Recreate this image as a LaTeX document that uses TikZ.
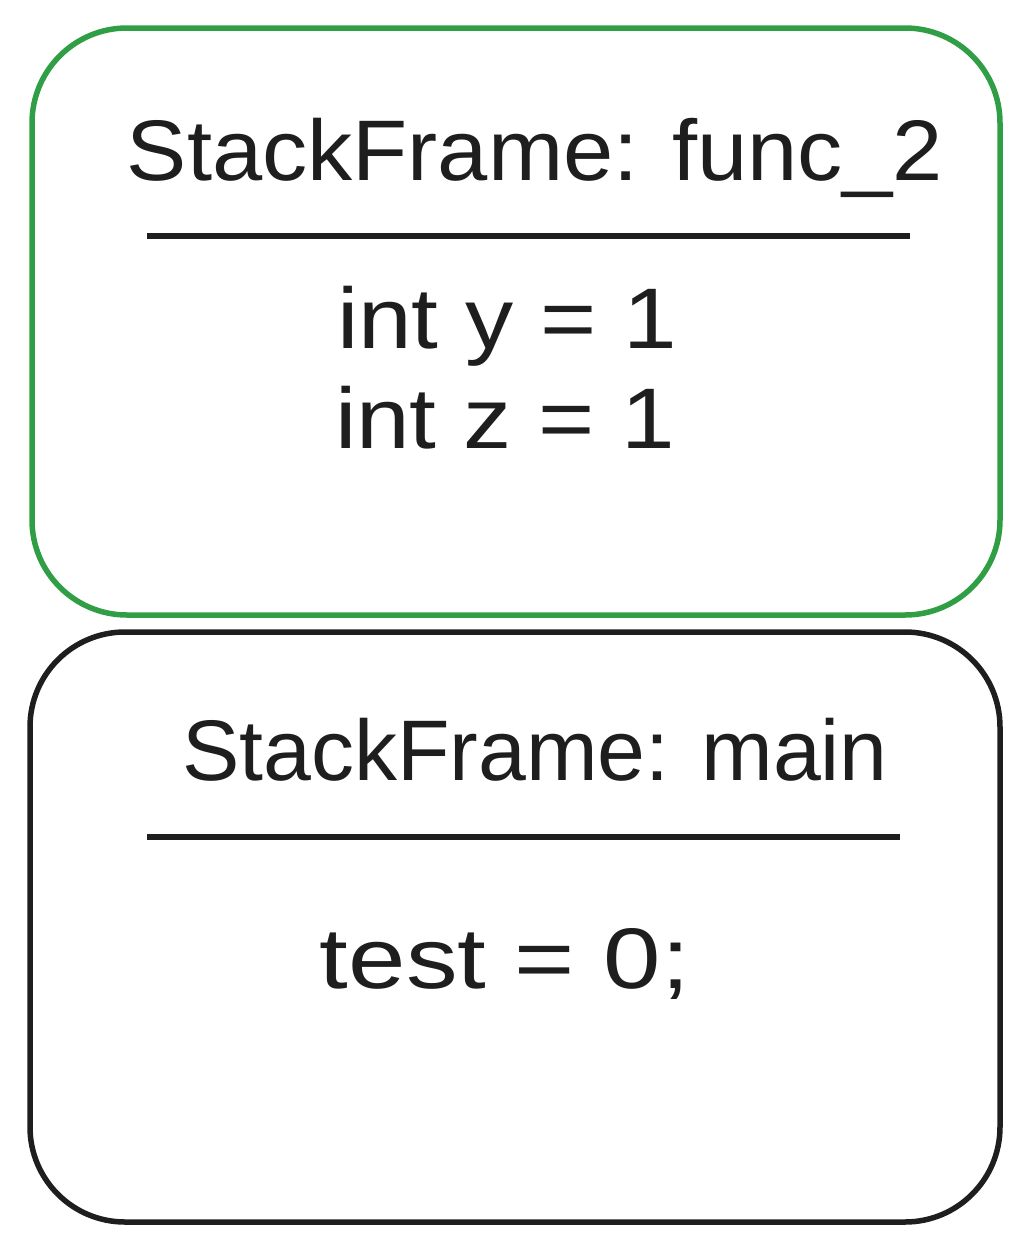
\documentclass[tikz,border=0pt]{standalone}
\usepackage{fontspec}
\setmainfont{Liberation Sans}
\definecolor{exgreen}{HTML}{2F9E44}
\definecolor{exblack}{HTML}{1E1E1E}
\begin{document}
\begin{tikzpicture}[x=1pt,y=-1pt,
  framebox/.style={line width=5.5pt, rounded corners=95pt},
  sepline/.style={line width=6pt, exblack},
  txt/.style={text=exblack, font=\fontsize{86}{100}\selectfont, inner sep=0pt, anchor=base}]
\useasboundingbox (0,0) rectangle (1029,1248);
% top frame
\draw[framebox, exgreen] (32,28) rectangle (1000,615);
\node[txt, xscale=1.05] (t1) at (535,180) {StackFrame: func\_2};
\coordinate (l1a) at (147,236);
\coordinate (l1b) at (910,236);
\draw[sepline] (l1a) -- (l1b);
\node[txt, xscale=1.12] (v1) at (507,348) {int y = 1};
\node[txt, xscale=1.12] (v2) at (505,448) {int z = 1};
% bottom frame
\draw[framebox, exblack] (30,632) rectangle (1000,1222);
\node[txt] (t2) at (535,780) {StackFrame: main};
\coordinate (l2a) at (147,837);
\coordinate (l2b) at (900,837);
\draw[sepline] (l2a) -- (l2b);
\node[txt, xscale=1.2] (v3) at (505,988) {test = 0;};
\end{tikzpicture}
\end{document}
